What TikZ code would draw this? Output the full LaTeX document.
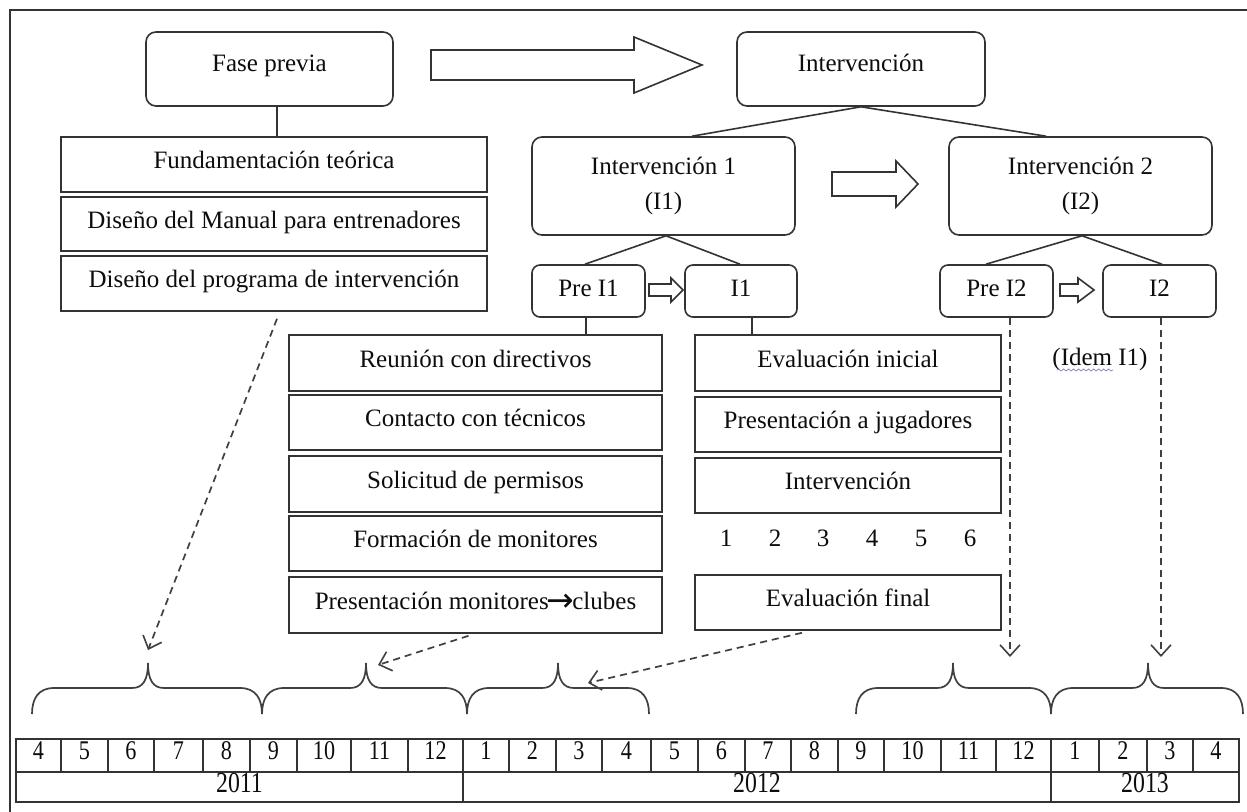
\documentclass[tikz,border=0pt]{standalone}
\usepackage{fontspec}
\setmainfont{Liberation Serif}
\newfontfamily\tabfont[FakeStretch=0.82]{Liberation Serif}
\newfontfamily\arrowfont{DejaVu Sans}
\usetikzlibrary{arrows.meta,calc,decorations.pathmorphing}
\newcommand\mybrace[3]{%
 \draw[brace] (#1,714) .. controls (#1,699) and (#1+6,688) .. (#1+22,688) -- (#2-16,688)
   .. controls (#2-5,688) and (#2,680) .. (#2,663)
   .. controls (#2,680) and (#2+5,688) .. (#2+16,688) -- (#3-22,688)
   .. controls (#3-6,688) and (#3,699) .. (#3,714);}
\begin{document}
\begin{tikzpicture}[x=0.5pt,y=-0.5pt,
  every node/.style={font=\fontsize{12.5}{15}\selectfont, text=black!95},
  ln/.style={draw=black!80, line width=0.8pt},
  rbox/.style={ln, rounded corners=5pt, inner sep=0pt, align=center},
  sbox/.style={ln, rounded corners=4pt, inner sep=0pt, minimum width=56.5pt, minimum height=26pt, text height=9pt, text depth=3.2pt},
  lbox/.style={ln, inner sep=0pt, text height=9pt, text depth=4.7pt},
  conn/.style={draw=black!80, line width=0.8pt},
  dasharrow/.style={draw=black!75, line width=0.85pt, dash pattern=on 3.5pt off 2.5pt, -{Straight Barb[length=5.5pt,width=10pt,line width=0.8pt]}},
  blockarrow/.style={draw=black!80, line width=0.8pt, fill=white},
  brace/.style={draw=black!75, line width=0.85pt},
  cell/.style={ln, inner sep=0pt, minimum height=16.5pt, font=\tabfont\fontsize{13.5}{15}\selectfont, text height=10pt, text depth=5.8pt},
  ycell/.style={ln, inner sep=0pt, minimum height=15pt, font=\tabfont\fontsize{14.5}{16}\selectfont, text height=10pt, text depth=4.2pt}
]
\useasboundingbox (0,0) rectangle (1247,812);
\clip (0,0) rectangle (1247,812);
\fill[white] (0,0) rectangle (1247,812);
% outer frame
\draw[black!80, line width=0.8pt] (1270,10) -- (10,10) -- (10,830);

% top level
\node[rbox, minimum width=123.5pt, minimum height=37pt, text height=9pt, text depth=6.2pt] (fase) at (269.5,69) {Fase previa};
\node[rbox, minimum width=124pt, minimum height=37pt, text height=9pt, text depth=6.2pt] (interv) at (861,69) {Intervención};
\draw[blockarrow] (431,50) -- (634,50) -- (634,37) -- (702,65) -- (634,93) -- (634,80) -- (431,80) -- cycle;

% interventions
\node[rbox, minimum width=131.5pt, minimum height=49pt, font=\fontsize{12.5}{17.5}\selectfont] (int1) at (663.5,186) {Intervención 1\\(I1)};
\node[rbox, minimum width=131.5pt, minimum height=49pt, font=\fontsize{12.5}{17.5}\selectfont] (int2) at (1080.5,186) {Intervención 2\\(I2)};
\draw[blockarrow] (832,172) -- (896,172) -- (896,161) -- (918,184) -- (896,207) -- (896,196) -- (832,196) -- cycle;
\draw[conn] (interv.south) -- ($(int1.north)+(28.5,0)$);
\draw[conn] (interv.south) -- ($(int2.north)+(-34.5,0)$);

% sub boxes
\node[sbox] (preI1) at (588.5,291) {Pre I1};
\node[sbox, minimum width=56pt] (i1s) at (741,291) {I1};
\node[sbox] (preI2) at (996.5,291) {Pre I2};
\node[sbox] (i2s) at (1159.5,291) {I2};
\draw[blockarrow] (649,284) -- (671,284) -- (671,278) -- (683,290) -- (671,302) -- (671,296) -- (649,296) -- cycle;
\draw[blockarrow] (1060,284) -- (1078,284) -- (1078,278) -- (1094,290) -- (1078,302) -- (1078,296) -- (1060,296) -- cycle;
\draw[conn] ($(int1.south)+(2.5,0)$) -- ($(preI1.north)+(-3.5,0)$);
\draw[conn] ($(int1.south)+(2.5,0)$) -- ($(i1s.north)+(-1,0)$);
\draw[conn] ($(int2.south)+(1.5,0)$) -- ($(preI2.north)+(-10.5,0)$);
\draw[conn] ($(int2.south)+(1.5,0)$) -- ($(i2s.north)+(2.5,0)$);

% Fase previa list
\node[lbox, minimum width=213pt, minimum height=27.5pt] (fund) at (274,164.5) {Fundamentación teórica};
\node[lbox, minimum width=213pt, minimum height=27pt] (manual) at (274,224) {Diseño del Manual para entrenadores};
\node[lbox, minimum width=213pt, minimum height=27.5pt] (prog) at (274,283.5) {Diseño del programa de intervención};
\coordinate (fa) at ($(fase.south)+(7.5,0)$);
\draw[conn] (fa) -- (fa |- fund.north);

% Pre I1 list
\node[lbox, minimum width=186.5pt, minimum height=28pt] (reun) at (475.5,363) {Reunión con directivos};
\node[lbox, minimum width=186.5pt, minimum height=27.5pt] (cont) at (475.5,422.5) {Contacto con técnicos};
\node[lbox, minimum width=186.5pt, minimum height=28pt] (soli) at (475.5,484) {Solicitud de permisos};
\node[lbox, minimum width=186.5pt, minimum height=27.5pt] (form) at (475.5,543.5) {Formación de monitores};
\node[lbox, minimum width=186.5pt, minimum height=28pt] (pres) at (475.5,605) {Presentación monitores\kern-1pt\raisebox{-1.2pt}{\arrowfont\fontsize{16.5}{16}\selectfont →}\kern-1pt clubes};
\coordinate (pa) at ($(preI1.south)+(-2.5,0)$);
\draw[conn] (pa) -- (pa |- reun.north);

% I1 list
\node[lbox, minimum width=153pt, minimum height=28pt] (evali) at (848,363) {Evaluación inicial};
\node[lbox, minimum width=153pt, minimum height=27.5pt] (presj) at (848,424.5) {Presentación a jugadores};
\node[lbox, minimum width=153pt, minimum height=27.5pt] (intv) at (848,485.5) {Intervención};
\node[lbox, minimum width=153pt, minimum height=27.5pt] (evalf) at (848,602.5) {Evaluación final};
\coordinate (ia) at ($(i1s.south)+(11,0)$);
\draw[conn] (ia) -- (ia |- evali.north);
\foreach \x [count=\i] in {726,775,823,872,921,970}
  \node (n\i) at (\x,538) {\i};

% Idem
\node (idem) at (1100,359) {(Idem I1)};
\draw[decorate, decoration={snake, amplitude=0.5pt, segment length=2.5pt}, blue!30!gray!70, line width=0.4pt] (1057,370) -- (1113,370);

% braces
\mybrace{32}{148}{262}
\mybrace{262}{366}{467}
\mybrace{467}{558}{649}
\mybrace{856}{953}{1051}
\mybrace{1051}{1148}{1243}
\coordinate (t1) at (148,650);
\coordinate (t2) at (378,665);
\coordinate (t3) at (588,683);
\coordinate (t4) at (1010,657);
\coordinate (t5) at (1161,657);

% dashed arrows
\draw[dasharrow] ($(prog.south)+(3,7)$) -- (t1);
\draw[dasharrow] ($(pres.south)+(-7,2)$) -- (t2);
\draw[dasharrow] ($(evalf.south)+(-46,2)$) -- (t3);
\draw[dasharrow] ($(preI2.south)+(13.5,0)$) -- (t4);
\draw[dasharrow] ($(i2s.south)+(1.5,0)$) -- (t5);

% timeline
\foreach \l/\r/\t [count=\i] in {16/61/4, 61/108/5, 108/154/6, 154/203/7, 203/250/8, 250/297/9, 297/351/10, 351/408/11, 408/463/12, 463/509/1, 509/556/2, 556/602/3, 602/651/4, 651/698/5, 698/745/6, 745/791/7, 791/838/8, 838/884/9, 884/941/10, 941/996/11, 996/1051/12, 1051/1099/1, 1099/1147/2, 1147/1193/3, 1193/1239/4}
  \node[cell, minimum width={(\r-\l)*0.5pt}] (m\i) at ({(\l+\r)/2},755.5) {\t};
\node[ycell, minimum width=223.5pt] (y2011) at (239.5,787) {2011};
\node[ycell, minimum width=294pt] (y2012) at (757,787) {2012};
\node[ycell, minimum width=94pt] (y2013) at (1145,787) {2013};
\end{tikzpicture}
\end{document}
